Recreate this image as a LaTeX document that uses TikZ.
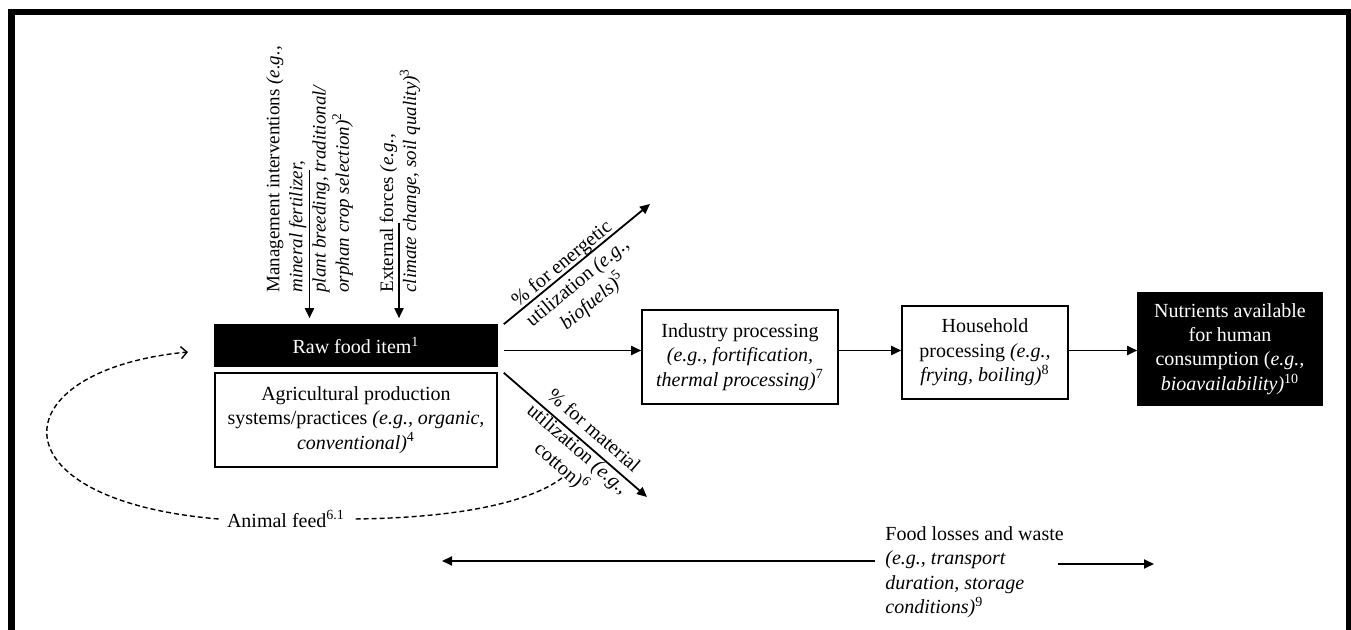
\documentclass[tikz,border=0pt]{standalone}
\usepackage{fontspec}
\setmainfont{Liberation Serif}
\usetikzlibrary{arrows.meta,calc}
\begin{document}
\begin{tikzpicture}[x=0.5pt,y=-0.5pt,
  box/.style={draw=black, line width=0.8pt, inner sep=0pt, align=center, font=\fontsize{10}{12.2}\selectfont},
  darkbox/.style={box, fill=black, text=white},
  lbl/.style={inner sep=0pt, font=\fontsize{10}{12.2}\selectfont},
  vlbl/.style={inner sep=0pt, rotate=90, anchor=west, align=left, font=\fontsize{9.5}{11.6}\selectfont},
  arr/.style={line width=0.9pt, -{Triangle[length=5pt,width=4.5pt]}},
  fbdash/.style={line width=0.7pt, dash pattern=on 2.5pt off 1.5pt},
]
\useasboundingbox (0,0) rectangle (1351,630);
% frame
\draw[line width=3.3pt] (11.5,660) -- (11.5,12) -- (1349,12) -- (1349,660);

% boxes
\node[darkbox, minimum width=141pt, minimum height=20.5pt] (raw) at (356,345.5) {Raw food item\textsuperscript{1}};
\node[box, minimum width=141pt, minimum height=47pt] (agri) at (356,420) {Agricultural production\\systems/practices \textit{(e.g., organic,}\\\textit{conventional)}\textsuperscript{4}};
\node[box, minimum width=98pt, minimum height=47pt] (industry) at (740,357) {Industry processing\\\textit{(e.g., fortification,}\\\textit{thermal processing)}\textsuperscript{7}};
\node[box, minimum width=83pt, minimum height=46.5pt] (household) at (985,352.5) {Household\\processing \textit{(e.g.,}\\\textit{frying, boiling)}\textsuperscript{8}};
\node[darkbox, minimum width=92pt, minimum height=56pt] (nutrients) at (1230,349) {Nutrients available\\for human\\consumption (\textit{e.g.,}\\\textit{bioavailability)}\textsuperscript{10}};

% vertical influences
\node[vlbl] (mgmt) at (309.5,293) {Management interventions \textit{(e.g.,}\\\textit{mineral fertilizer,}\\\textit{plant breeding, traditional/}\\\textit{orphan crop selection)}\textsuperscript{2}};
\node[vlbl] (ext) at (400,293) {External forces \textit{(e.g.,}\\\textit{climate change, soil quality)}\textsuperscript{3}};
\coordinate (mgmt-top) at (309.5,170);
\coordinate (ext-top) at (399,223);
\draw[arr] (mgmt-top) -- ($(raw.north -| mgmt-top)+(0,-6)$);
\draw[arr] (ext-top) -- ($(raw.north -| ext-top)+(0,-6)$);

% main flow
\coordinate (ay) at (0,350.5);
\draw[arr] ($(raw.east |- ay)+(6,0)$) -- (industry.west |- ay);
\draw[arr] (industry.east |- ay) -- (household.west |- ay);
\draw[arr] (household.east |- ay) -- (nutrients.west |- ay);

% diagonal outputs
\coordinate (en-end) at (650,204);
\coordinate (ma-end) at (647,497);
\draw[arr] ($(raw.north east)+(6,0)$) -- (en-end);
\draw[arr] ($(raw.south east)+(6,6)$) -- (ma-end);
\node[lbl, rotate=39.5, align=center] (enlbl) at (578,283) {\% for energetic\\utilization \textit{(e.g.,}\\\textit{biofuels)}\textsuperscript{5}};
\node[lbl, rotate=-41, align=center] (malbl) at (577,450) {\% for material\\utilization \textit{(e.g.,}\\cotton)\textsuperscript{6}};

% animal feed loop
\node[lbl] (feed) at (286,519) {Animal feed\textsuperscript{6.1}};
\coordinate (fb-tip) at (188,352);
\coordinate (fb-start) at (562,478);
\draw[fbdash, -{Straight Barb[length=3pt,width=6pt]}] ($(feed.west)+(-8,0)$) .. controls (-10,500) and (0,370) .. (fb-tip);
\draw[fbdash] (fb-start) .. controls (530,502) and (460,518) .. ($(feed.east)+(8,0)$);

% food losses
\node[lbl, align=left, anchor=west] (loss) at (885,572) {Food losses and waste\\\textit{(e.g., transport}\\\textit{duration, storage}\\\textit{conditions)}\textsuperscript{9}};
\coordinate (l-tip) at (442,561);
\coordinate (r-tip) at (1154,564);
\draw[arr] ($(loss.west |- l-tip)+(-10,0)$) -- (l-tip);
\draw[arr] ($(loss.east |- r-tip)+(-6,0)$) -- (r-tip);
\end{tikzpicture}
\end{document}
